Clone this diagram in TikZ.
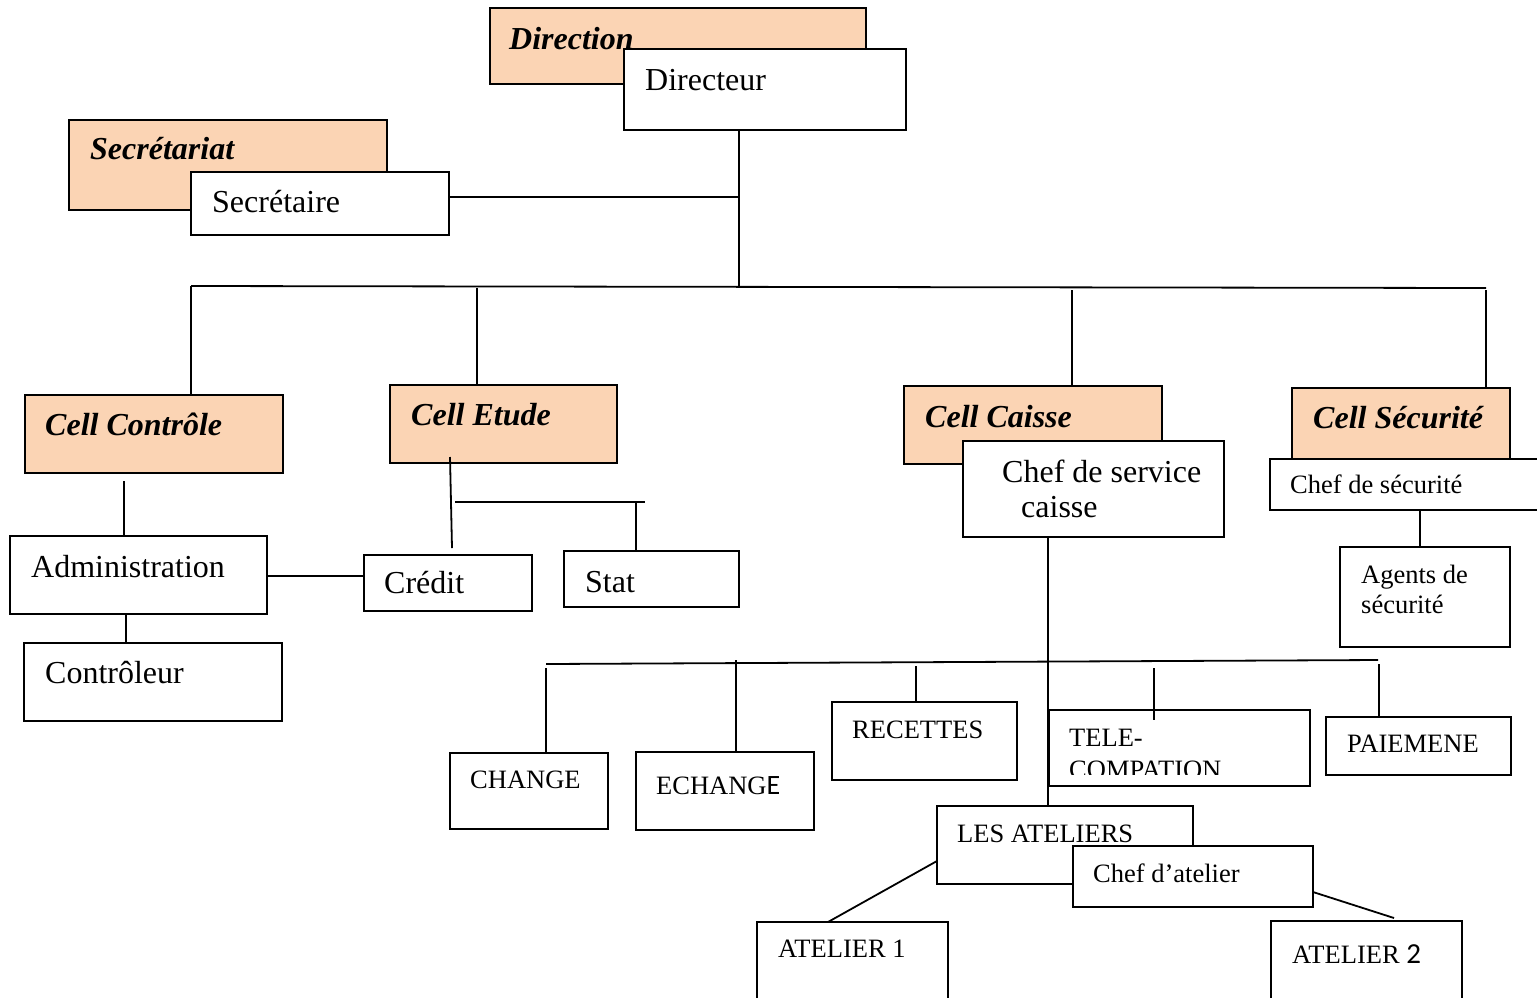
\documentclass[tikz,border=0pt]{standalone}
\usepackage{fontspec}
\setmainfont{Liberation Serif}
\newfontfamily\calibrifont{Carlito}
\definecolor{peach}{HTML}{FBD4B4}
\begin{document}
\begin{tikzpicture}[x=1pt,y=-1pt,
  box/.style={draw=black,line width=1.8pt,fill=white,inner sep=0pt,outer sep=0pt},
  head/.style={box,fill=peach},
  big/.style={anchor=base west,inner sep=0pt,font=\fontsize{32}{38}\selectfont},
  small/.style={anchor=base west,inner sep=0pt,font=\fontsize{26.5}{30}\selectfont},
  bigbi/.style={big,font=\fontsize{32}{38}\selectfont\bfseries\itshape},
  link/.style={line width=1.8pt}]
\newcommand\boxnode[6][box]{\node[#1,anchor=north west,minimum width={#5pt-#3pt},minimum height={#6pt-#4pt}] (#2) at (#3,#4) {};}
\clip (0,0) rectangle (1537,997);
\fill[white] (0,0) rectangle (1537,997);

% ---- boxes ----
\boxnode[head]{direction}{490}{8}{866}{84}
\boxnode{directeur}{624}{49}{906}{130}
\boxnode[head]{secretariat}{69}{120}{387}{210}
\boxnode{secretaire}{191}{172}{449}{235}
\boxnode[head]{cctrl}{25}{395}{283}{473}
\boxnode[head]{cetude}{390}{385}{617}{463}
\boxnode[head]{ccaisse}{904}{386}{1162}{464}
\boxnode[head]{csecu}{1292}{388}{1510}{470}
\boxnode{chefcaisse}{963}{441}{1224}{537}
\boxnode{chefsecu}{1270}{459}{1560}{510}
\boxnode{agents}{1340}{547}{1510}{647}
\boxnode{admin}{10}{536}{267}{614}
\boxnode{controleur}{24}{643}{282}{721}
\boxnode{credit}{364}{555}{532}{611}
\boxnode{stat}{564}{551}{739}{607}
\boxnode{change}{450}{753}{608}{829}
\boxnode{echange}{636}{752}{814}{830}
\boxnode{recettes}{832}{702}{1017}{780}
\boxnode{tele}{1049}{710}{1310}{786}
\boxnode{paie}{1326}{717}{1511}{775}
\boxnode{ateliers}{937}{806}{1193}{884}
\boxnode{chefat}{1073}{846}{1313}{907}
\boxnode{at1}{757}{922}{948}{1020}
\boxnode{at2}{1271}{921}{1462}{1020}

% ---- texts ----
\node[bigbi] (t-direction) at (509,49) {Direction};
\node[big] (t-directeur) at (645,90) {Directeur};
\node[bigbi] (t-secretariat) at (90,159) {Secrétariat};
\node[big] (t-secretaire) at (212,212) {Secrétaire};
\node[bigbi] (t-cctrl) at (45,435) {Cell Contrôle};
\node[bigbi] (t-cetude) at (411,425) {Cell Etude};
\node[bigbi] (t-ccaisse) at (925,427) {Cell Caisse};
\node[bigbi] (t-csecu) at (1313,428) {Cell Sécurité};
\node[big] (t-chefcaisse1) at (1002,482) {Chef de service};
\node[big] (t-chefcaisse2) at (1021,517) {caisse};
\node[small] (t-chefsecu) at (1290,493) {Chef de sécurité};
\node[small] (t-agents1) at (1361,583) {Agents de};
\node[small] (t-agents2) at (1361,613) {sécurité};
\node[big] (t-admin) at (31,577) {Administration};
\node[big] (t-controleur) at (45,683) {Contrôleur};
\node[big] (t-credit) at (384,593) {Crédit};
\node[big] (t-stat) at (585,592) {Stat};
\node[small] (t-change) at (470,788) {CHANGE};
\node[small] (t-echange) at (656,794) {ECHANG{\calibrifont\fontsize{28}{30}\selectfont E}};
\node[small] (t-recettes) at (852,738) {RECETTES};
\node[small] (t-tele1) at (1069,746) {TELE-};
\begin{scope}
  % the second line is cut off by the box's lower text margin
  \clip (1049,711) rectangle (1310,774);
  \node[small] (t-tele2) at (1069,778) {COMPATION};
\end{scope}
\node[small] (t-paie) at (1347,752) {PAIEMENE};
\node[small] (t-ateliers) at (957,842) {LES ATELIERS};
\node[small] (t-chefat) at (1093,882) {Chef d’atelier};
\node[small] (t-at1) at (778,957) {ATELIER 1};
\node[small] (t-at2) at (1292,963) {ATELIER {\calibrifont\fontsize{29}{30}\selectfont 2}};

% ---- junction points ----
\coordinate (spine) at (739,287);
\coordinate (secj) at (739,197);
\coordinate (barL) at (191,286);
\coordinate (barR) at (1486,288);
\coordinate (etj) at (477,288);
\coordinate (caj) at (1072,290);
\coordinate (secuj) at (1486,290);
\coordinate (admtop) at (124,481);
\coordinate (ctlj) at (126,614);
\coordinate (et1) at (450,457);
\coordinate (et2) at (452,548);
\coordinate (stL) at (455,502);
\coordinate (stR) at (645,502);
\coordinate (stj) at (636,502);
\coordinate (cai) at (1048,537);
\coordinate (bar2L) at (546,664);
\coordinate (bar2R) at (1378,660);
\coordinate (chj) at (546,668);
\coordinate (ecj) at (736,660);
\coordinate (rej) at (916,666);
\coordinate (tej) at (1154,668);
\coordinate (tebot) at (1154,720);
\coordinate (paj) at (1379,664);
\coordinate (a1top) at (828,922);
\coordinate (a1src) at (937,861);
\coordinate (a2src) at (1313,892);
\coordinate (a2top) at (1394,918);
\coordinate (agj) at (1420,510);

% ---- connectors ----
\draw[link] (directeur.south -| spine) -- (spine);
\draw[link] (secretaire.east |- secj) -- (secj);
\draw[link] (barL) -- (barR);
\draw[link] (barL) -- (cctrl.north -| barL);
\draw[link] (etj) -- (cetude.north -| etj);
\draw[link] (caj) -- (ccaisse.north -| caj);
\draw[link] (secuj) -- (csecu.north -| secuj);
\draw[link] (admtop) -- (admin.north -| admtop);
\draw[link] (admin.east |- 0,576) -- (credit.west |- 0,576);
\draw[link] (ctlj) -- (controleur.north -| ctlj);
\draw[link] (et1) -- (et2);
\draw[link] (stL) -- (stR);
\draw[link] (stj) -- (stat.north -| stj);
\draw[link] (chefcaisse.south -| cai) -- (ateliers.north -| cai);
\draw[link] (bar2L) -- (bar2R);
\draw[link] (chj) -- (change.north -| chj);
\draw[link] (ecj) -- (echange.north -| ecj);
\draw[link] (rej) -- (recettes.north -| rej);
\draw[link] (tej) -- (tebot);
\draw[link] (paj) -- (paie.north -| paj);
\draw[link] (a1src) -- (a1top);
\draw[link] (a2src) -- (a2top);
\draw[link] (chefsecu.south -| agj) -- (agents.north -| agj);
\end{tikzpicture}
\end{document}
